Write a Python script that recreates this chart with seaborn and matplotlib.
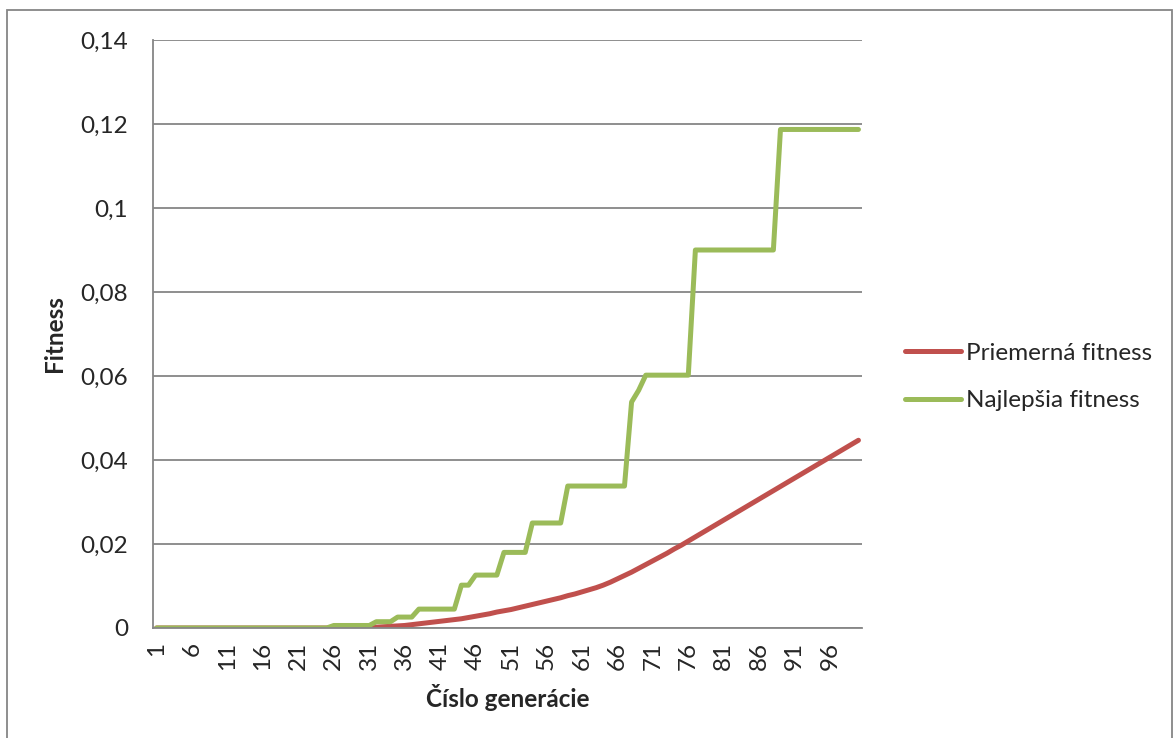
import numpy as np
import pandas as pd
import matplotlib
matplotlib.use("Agg")
import matplotlib.pyplot as plt
from matplotlib.patches import Rectangle
import seaborn as sns

# Generation numbers and the two fitness series
generations = list(range(1, 101))

average_fitness = (
    [0.0] * 30 +
    [0.0001, 0.0002, 0.0003, 0.0004, 0.0005, 0.0006, 0.0008, 0.0010, 0.0012, 0.0014,   # 31-40
     0.0016, 0.0018, 0.0020, 0.0022, 0.0025, 0.0028, 0.0031, 0.0034, 0.0038, 0.0041,   # 41-50
     0.0044, 0.0048, 0.0052, 0.0056, 0.0060, 0.0064, 0.0068, 0.0072, 0.0077, 0.0081,   # 51-60
     0.0086, 0.0091, 0.0096, 0.0102, 0.0109, 0.0117, 0.0125, 0.0133, 0.0142, 0.0151,   # 61-70
     0.0160, 0.0169, 0.0178, 0.0188, 0.0197, 0.0207, 0.0217, 0.0227, 0.0237, 0.0247,   # 71-80
     0.0257, 0.0267, 0.0277, 0.0287, 0.0297, 0.0307, 0.0317, 0.0327, 0.0337, 0.0347,   # 81-90
     0.0357, 0.0367, 0.0377, 0.0387, 0.0397, 0.0407, 0.0417, 0.0427, 0.0437, 0.0447]   # 91-100
)

best_fitness = (
    [0.0] * 25 +          # 1-25
    [0.0006] * 6 +        # 26-31
    [0.0015] * 3 +        # 32-34
    [0.0026] * 3 +        # 35-37
    [0.0045] * 6 +        # 38-43
    [0.0102] * 2 +        # 44-45
    [0.0126] * 4 +        # 46-49
    [0.0180] * 4 +        # 50-53
    [0.0250] * 5 +        # 54-58
    [0.0338] * 9 +        # 59-67
    [0.0538, 0.0566] +    # 68-69
    [0.0602] * 7 +        # 70-76
    [0.0900] * 12 +       # 77-88
    [0.1187] * 12         # 89-100
)

series_names = ["Priemerná fitness", "Najlepšia fitness"]
series_colors = ["#C0504D", "#9BBB59"]

x_tick_values = list(range(1, 101, 5))
y_tick_values = [0, 0.02, 0.04, 0.06, 0.08, 0.10, 0.12, 0.14]
y_tick_labels = ["0", "0,02", "0,04", "0,06", "0,08", "0,1", "0,12", "0,14"]

x_title = "Číslo generácie"
y_title = "Fitness"

df = pd.DataFrame({
    "gen": generations * 2,
    "fitness": average_fitness + best_fitness,
    "series": [series_names[0]] * 100 + [series_names[1]] * 100,
})

sns.set_style("white")
plt.rcParams["font.family"] = ["Lato", "DejaVu Sans"]

grid_gray = "#868686"
fs = 17.5

fig = plt.figure(figsize=(11.75, 7.38), dpi=100)
ax = fig.add_axes([153 / 1175, 1 - 628 / 738, (862 - 153) / 1175, (628 - 40) / 738])

sns.lineplot(data=df, x="gen", y="fitness", hue="series", hue_order=series_names,
             palette=series_colors, linewidth=3.6, ax=ax, legend=False)
for ln in ax.get_lines():
    ln.set_solid_capstyle("round")
    ln.set_solid_joinstyle("round")

ax.set_xlim(0.5, 100.5)
ax.set_ylim(0, 0.14)
ax.set_xticks(x_tick_values)
ax.set_xticklabels([str(v) for v in x_tick_values], rotation=90, fontsize=fs)
ax.set_yticks(y_tick_values)
ax.set_yticklabels(y_tick_labels, fontsize=fs)
ax.tick_params(axis="x", length=0, pad=10)
ax.tick_params(axis="y", length=6, width=1.3, color=grid_gray, pad=12, direction="out")

ax.yaxis.grid(True, color=grid_gray, linewidth=1.3)
ax.set_axisbelow(True)
for side in ["top", "right"]:
    ax.spines[side].set_visible(False)
for side in ["left", "bottom"]:
    ax.spines[side].set_color(grid_gray)
    ax.spines[side].set_linewidth(1.3)

ax.set_xlabel(x_title, fontsize=fs, fontweight="bold", labelpad=10)
ax.set_ylabel(y_title, fontsize=fs, fontweight="bold", labelpad=10)

handles = ax.get_lines()[:2]
fig.legend(handles, series_names, loc="center left",
           bbox_to_anchor=(883 / 1175, 1 - 377 / 738), frameon=False,
           fontsize=fs, handlelength=2.3, handletextpad=0.2, labelspacing=1.1)

# Outer chart frame
fig.patches.append(Rectangle((7 / 1175, -0.01), (1172 - 7) / 1175, 1.01 - 10 / 738,
                             transform=fig.transFigure, fill=False,
                             edgecolor=grid_gray, linewidth=1.3))

fig.savefig("out.png", dpi=100)
